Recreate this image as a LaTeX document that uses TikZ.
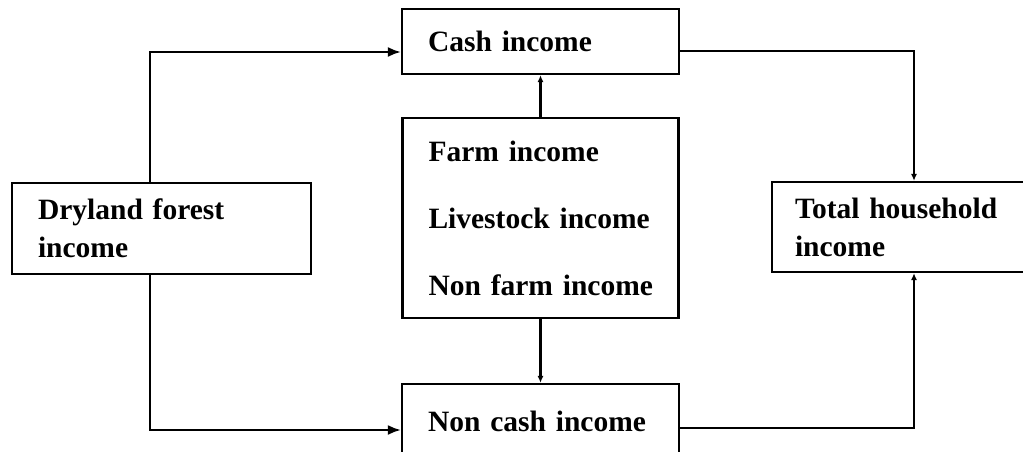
\documentclass[tikz,border=0pt]{standalone}
\usepackage{fontspec}
\setmainfont{Liberation Serif}
\usetikzlibrary{arrows.meta}

\tikzset{
  incomebox/.style={draw, line width=2.2pt, align=left, inner xsep=26pt,
    font=\fontsize{29.5}{38}\selectfont\bfseries},
  bigarrow/.style={line width=2.2pt, -{Latex[length=13pt,width=10pt]}},
  smallarrow/.style={line width=2.2pt, -{Latex[length=7pt,width=6pt]}}
}

\begin{document}
\begin{tikzpicture}[x=1pt, y=-1pt]
    % Fix the page to the size of the reference
    \clip (0,0) rectangle (1023,452);
    % Draw the boxes
    \node[incomebox, text width=225pt, minimum height=65pt] (cash) at (540.5,41.5) {\mbox{Cash income}};
    \node[incomebox, text width=224pt, minimum height=200pt,
          font=\fontsize{29.5}{67}\selectfont\bfseries] (mid) at (540.5,218)
          {\mbox{Farm income}\\\mbox{Livestock income}\\\mbox{Non farm income}};
    \node[incomebox, text width=247pt, minimum height=91pt] (dry) at (161.5,228.5) {\mbox{Dryland forest}\\income};
    \node[incomebox, inner xsep=23pt, text width=238pt, minimum height=90pt] (total) at (914,227) {\mbox{Total household}\\income};
    \node[incomebox, text width=225pt, minimum height=74pt] (ncash) at (540.5,421) {\mbox{Non cash income}};
    % Draw the connectors from the dryland forest box
    \draw[bigarrow] ([xshift=-11.5pt]dry.north) |- ([yshift=-10.5pt]cash.west);
    \draw[bigarrow] ([xshift=-11.5pt]dry.south) |- ([yshift=-9pt]ncash.west);
    % Draw the connectors from the middle box
    \draw[smallarrow] (mid.north) -- (cash.south);
    \draw[smallarrow] (mid.south) -- (ncash.north);
    % Draw the connectors into the total household box
    \draw[smallarrow] ([yshift=-9.5pt]cash.east) -| (total.north);
    \draw[smallarrow] ([yshift=-7pt]ncash.east) -| (total.south);
\end{tikzpicture}
\end{document}
